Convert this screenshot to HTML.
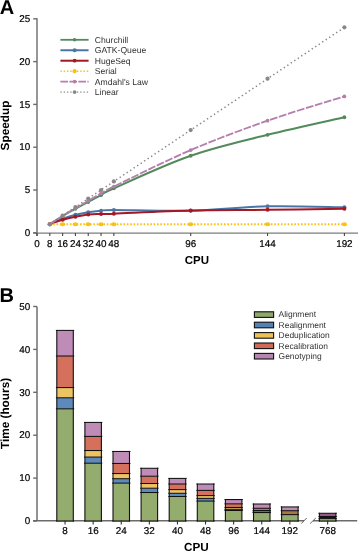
<!DOCTYPE html>
<html><head><meta charset="utf-8"><style>
html,body{margin:0;padding:0;background:#fff;}
svg{display:block;will-change:transform;text-rendering:geometricPrecision;font-family:"Liberation Sans",sans-serif;}
</style></head><body>
<svg width="358" height="551" viewBox="0 0 358 551" fill="#000">
<text x="-0.3" y="14.3" font-size="20" font-weight="bold">A</text>
<path d="M37,18.2 V236" stroke="#6b6b6b" stroke-width="1.4" fill="none"/>
<path d="M33,233 H358" stroke="#7c7c7c" stroke-width="1.25" fill="none"/>
<line x1="33.2" x2="37" y1="232.80" y2="232.80" stroke="#6b6b6b" stroke-width="1.4"/>
<text x="30.3" y="236.00" font-size="9.9" stroke="#000" stroke-width="0.2" text-anchor="end">0</text>
<line x1="33.2" x2="37" y1="190.00" y2="190.00" stroke="#6b6b6b" stroke-width="1.4"/>
<text x="30.3" y="193.20" font-size="9.9" stroke="#000" stroke-width="0.2" text-anchor="end">5</text>
<line x1="33.2" x2="37" y1="147.20" y2="147.20" stroke="#6b6b6b" stroke-width="1.4"/>
<text x="30.3" y="150.40" font-size="9.9" stroke="#000" stroke-width="0.2" text-anchor="end">10</text>
<line x1="33.2" x2="37" y1="104.40" y2="104.40" stroke="#6b6b6b" stroke-width="1.4"/>
<text x="30.3" y="107.60" font-size="9.9" stroke="#000" stroke-width="0.2" text-anchor="end">15</text>
<line x1="33.2" x2="37" y1="61.60" y2="61.60" stroke="#6b6b6b" stroke-width="1.4"/>
<text x="30.3" y="64.80" font-size="9.9" stroke="#000" stroke-width="0.2" text-anchor="end">20</text>
<line x1="33.2" x2="37" y1="18.80" y2="18.80" stroke="#6b6b6b" stroke-width="1.4"/>
<text x="30.3" y="22.00" font-size="9.9" stroke="#000" stroke-width="0.2" text-anchor="end">25</text>
<line x1="37.00" x2="37.00" y1="233" y2="236" stroke="#444" stroke-width="1.1"/>
<text x="37.00" y="246.6" font-size="9.9" stroke="#000" stroke-width="0.2" text-anchor="middle">0</text>
<line x1="49.81" x2="49.81" y1="233" y2="236" stroke="#444" stroke-width="1.1"/>
<text x="49.81" y="246.6" font-size="9.9" stroke="#000" stroke-width="0.2" text-anchor="middle">8</text>
<line x1="62.62" x2="62.62" y1="233" y2="236" stroke="#444" stroke-width="1.1"/>
<text x="62.62" y="246.6" font-size="9.9" stroke="#000" stroke-width="0.2" text-anchor="middle">16</text>
<line x1="75.42" x2="75.42" y1="233" y2="236" stroke="#444" stroke-width="1.1"/>
<text x="75.42" y="246.6" font-size="9.9" stroke="#000" stroke-width="0.2" text-anchor="middle">24</text>
<line x1="88.23" x2="88.23" y1="233" y2="236" stroke="#444" stroke-width="1.1"/>
<text x="88.23" y="246.6" font-size="9.9" stroke="#000" stroke-width="0.2" text-anchor="middle">32</text>
<line x1="101.04" x2="101.04" y1="233" y2="236" stroke="#444" stroke-width="1.1"/>
<text x="101.04" y="246.6" font-size="9.9" stroke="#000" stroke-width="0.2" text-anchor="middle">40</text>
<line x1="113.85" x2="113.85" y1="233" y2="236" stroke="#444" stroke-width="1.1"/>
<text x="113.85" y="246.6" font-size="9.9" stroke="#000" stroke-width="0.2" text-anchor="middle">48</text>
<line x1="190.70" x2="190.70" y1="233" y2="236" stroke="#444" stroke-width="1.1"/>
<text x="190.70" y="246.6" font-size="9.9" stroke="#000" stroke-width="0.2" text-anchor="middle">96</text>
<line x1="267.54" x2="267.54" y1="233" y2="236" stroke="#444" stroke-width="1.1"/>
<text x="267.54" y="246.6" font-size="9.9" stroke="#000" stroke-width="0.2" text-anchor="middle">144</text>
<line x1="344.39" x2="344.39" y1="233" y2="236" stroke="#444" stroke-width="1.1"/>
<text x="344.39" y="246.6" font-size="9.9" stroke="#000" stroke-width="0.2" text-anchor="middle">192</text>
<text x="196.9" y="263.5" font-size="11.5" font-weight="bold" text-anchor="middle">CPU</text>
<text transform="translate(9.2,125.5) rotate(-90)" font-size="11.8" font-weight="bold" text-anchor="middle">Speedup</text>
<path d="M49.81,224.24 C51.94,222.88 58.35,218.68 62.62,216.11 C66.89,213.54 71.15,211.19 75.42,208.83 C79.69,206.48 83.96,204.27 88.23,201.98 C92.50,199.70 96.77,197.42 101.04,195.14 C105.31,192.85 98.91,194.85 113.85,188.29 C128.79,181.73 165.08,164.68 190.70,155.76 C216.31,146.84 241.93,141.21 267.54,134.79 C293.16,128.37 331.58,120.16 344.39,117.24" fill="none" stroke="#538a5b" stroke-width="2.0" /><circle cx="49.81" cy="224.24" r="1.9" fill="#538a5b"/><circle cx="62.62" cy="216.11" r="1.9" fill="#538a5b"/><circle cx="75.42" cy="208.83" r="1.9" fill="#538a5b"/><circle cx="88.23" cy="201.98" r="1.9" fill="#538a5b"/><circle cx="101.04" cy="195.14" r="1.9" fill="#538a5b"/><circle cx="113.85" cy="188.29" r="1.9" fill="#538a5b"/><circle cx="190.70" cy="155.76" r="1.9" fill="#538a5b"/><circle cx="267.54" cy="134.79" r="1.9" fill="#538a5b"/><circle cx="344.39" cy="117.24" r="1.9" fill="#538a5b"/>
<path d="M49.81,224.24 C51.94,223.31 58.35,220.25 62.62,218.68 C66.89,217.11 71.15,215.89 75.42,214.82 C79.69,213.75 83.96,212.93 88.23,212.26 C92.50,211.59 96.77,211.17 101.04,210.80 C105.31,210.43 98.91,210.04 113.85,210.03 C128.79,210.02 165.08,211.34 190.70,210.72 C216.31,210.09 241.93,206.83 267.54,206.26 C293.16,205.69 331.58,207.12 344.39,207.29" fill="none" stroke="#4a76a6" stroke-width="2.0" /><circle cx="49.81" cy="224.24" r="2.0" fill="#4a76a6"/><circle cx="62.62" cy="218.68" r="2.0" fill="#4a76a6"/><circle cx="75.42" cy="214.82" r="2.0" fill="#4a76a6"/><circle cx="88.23" cy="212.26" r="2.0" fill="#4a76a6"/><circle cx="101.04" cy="210.80" r="2.0" fill="#4a76a6"/><circle cx="113.85" cy="210.03" r="2.0" fill="#4a76a6"/><circle cx="190.70" cy="210.72" r="2.0" fill="#4a76a6"/><circle cx="267.54" cy="206.26" r="2.0" fill="#4a76a6"/><circle cx="344.39" cy="207.29" r="2.0" fill="#4a76a6"/>
<path d="M49.81,224.24 C51.94,223.50 58.35,221.03 62.62,219.79 C66.89,218.55 71.15,217.69 75.42,216.79 C79.69,215.89 83.96,214.87 88.23,214.40 C92.50,213.93 96.77,214.08 101.04,213.97 C105.31,213.85 98.91,214.28 113.85,213.71 C128.79,213.14 165.08,211.19 190.70,210.54 C216.31,209.90 241.93,210.17 267.54,209.86 C293.16,209.55 331.58,208.86 344.39,208.66" fill="none" stroke="#a41826" stroke-width="2.0" /><circle cx="49.81" cy="224.24" r="2.0" fill="#a41826"/><circle cx="62.62" cy="219.79" r="2.0" fill="#a41826"/><circle cx="75.42" cy="216.79" r="2.0" fill="#a41826"/><circle cx="88.23" cy="214.40" r="2.0" fill="#a41826"/><circle cx="101.04" cy="213.97" r="2.0" fill="#a41826"/><circle cx="113.85" cy="213.71" r="2.0" fill="#a41826"/><circle cx="190.70" cy="210.54" r="2.0" fill="#a41826"/><circle cx="267.54" cy="209.86" r="2.0" fill="#a41826"/><circle cx="344.39" cy="208.66" r="2.0" fill="#a41826"/>
<path d="M49.81,224.24 L62.62,224.24 L75.42,224.24 L88.23,224.24 L101.04,224.24 L113.85,224.24 L190.70,224.24 L267.54,224.24 L344.39,224.24" fill="none" stroke="#fcc011" stroke-width="1.8" stroke-dasharray="1.6 1.75"/><ellipse cx="49.81" cy="224.24" rx="2.6" ry="1.9" fill="#fcc011"/><ellipse cx="62.62" cy="224.24" rx="2.6" ry="1.9" fill="#fcc011"/><ellipse cx="75.42" cy="224.24" rx="2.6" ry="1.9" fill="#fcc011"/><ellipse cx="88.23" cy="224.24" rx="2.6" ry="1.9" fill="#fcc011"/><ellipse cx="101.04" cy="224.24" rx="2.6" ry="1.9" fill="#fcc011"/><ellipse cx="113.85" cy="224.24" rx="2.6" ry="1.9" fill="#fcc011"/><ellipse cx="190.70" cy="224.24" rx="2.6" ry="1.9" fill="#fcc011"/><ellipse cx="267.54" cy="224.24" rx="2.6" ry="1.9" fill="#fcc011"/><ellipse cx="344.39" cy="224.24" rx="2.6" ry="1.9" fill="#fcc011"/>
<path d="M49.81,224.24 C51.94,222.87 58.35,218.72 62.62,216.05 C66.89,213.38 71.15,210.76 75.42,208.20 C79.69,205.64 83.96,203.14 88.23,200.68 C92.50,198.22 96.77,195.82 101.04,193.46 C105.31,191.10 98.91,193.76 113.85,186.53 C128.79,179.30 165.08,161.07 190.70,150.09 C216.31,139.12 241.93,129.61 267.54,120.66 C293.16,111.71 331.58,100.43 344.39,96.39" fill="none" stroke="#b47fab" stroke-width="1.8" stroke-dasharray="7.8 1.6"/><circle cx="49.81" cy="224.24" r="1.9" fill="#b47fab"/><circle cx="62.62" cy="216.05" r="1.9" fill="#b47fab"/><circle cx="75.42" cy="208.20" r="1.9" fill="#b47fab"/><circle cx="88.23" cy="200.68" r="1.9" fill="#b47fab"/><circle cx="101.04" cy="193.46" r="1.9" fill="#b47fab"/><circle cx="113.85" cy="186.53" r="1.9" fill="#b47fab"/><circle cx="190.70" cy="150.09" r="1.9" fill="#b47fab"/><circle cx="267.54" cy="120.66" r="1.9" fill="#b47fab"/><circle cx="344.39" cy="96.39" r="1.9" fill="#b47fab"/>
<path d="M49.81,224.24 L62.62,215.68 L75.42,207.12 L88.23,198.56 L101.04,190.00 L113.85,181.44 L190.70,130.08 L267.54,78.72 L344.39,27.36" fill="none" stroke="#888888" stroke-width="1.5" stroke-dasharray="1.4 2.8"/><circle cx="49.81" cy="224.24" r="2.1" fill="#888888"/><circle cx="62.62" cy="215.68" r="2.1" fill="#888888"/><circle cx="75.42" cy="207.12" r="2.1" fill="#888888"/><circle cx="88.23" cy="198.56" r="2.1" fill="#888888"/><circle cx="101.04" cy="190.00" r="2.1" fill="#888888"/><circle cx="113.85" cy="181.44" r="2.1" fill="#888888"/><circle cx="190.70" cy="130.08" r="2.1" fill="#888888"/><circle cx="267.54" cy="78.72" r="2.1" fill="#888888"/><circle cx="344.39" cy="27.36" r="2.1" fill="#888888"/>
<line x1="60.4" x2="88.6" y1="39.80" y2="39.80" stroke="#538a5b" stroke-width="1.8" />
<circle cx="74.6" cy="39.80" r="1.8" fill="#538a5b"/>
<text x="94.8" y="42.80" font-size="8.6" fill="#333">Churchill</text>
<line x1="60.4" x2="88.6" y1="50.26" y2="50.26" stroke="#4a76a6" stroke-width="2.0" />
<circle cx="74.6" cy="50.26" r="2.1" fill="#4a76a6"/>
<text x="94.8" y="53.26" font-size="8.6" fill="#333">GATK-Queue</text>
<line x1="60.4" x2="88.6" y1="60.72" y2="60.72" stroke="#a41826" stroke-width="2.0" />
<circle cx="74.6" cy="60.72" r="1.9" fill="#a41826"/>
<text x="94.8" y="63.72" font-size="8.6" fill="#333">HugeSeq</text>
<line x1="60.4" x2="88.6" y1="71.18" y2="71.18" stroke="#fcc011" stroke-width="1.5" stroke-dasharray="1.4 1.9"/>
<circle cx="74.6" cy="71.18" r="2.1" fill="#fcc011"/>
<text x="94.8" y="74.18" font-size="8.6" fill="#333">Serial</text>
<line x1="60.4" x2="88.6" y1="81.64" y2="81.64" stroke="#b47fab" stroke-width="1.6" stroke-dasharray="7.6 1.4"/>
<circle cx="74.6" cy="81.64" r="1.8" fill="#b47fab"/>
<text x="94.8" y="84.64" font-size="8.6" fill="#333">Amdahl&#39;s Law</text>
<line x1="60.4" x2="88.6" y1="92.10" y2="92.10" stroke="#888888" stroke-width="1.4" stroke-dasharray="1.3 2.0"/>
<circle cx="74.6" cy="92.10" r="1.9" fill="#888888"/>
<text x="94.8" y="95.10" font-size="8.6" fill="#333">Linear</text>
<text x="-0.4" y="301.6" font-size="20" font-weight="bold">B</text>
<path d="M37,306.5 V520.8 M33,520.8 H304 M313,520.8 H357.2" stroke="#6b6b6b" stroke-width="1.45" fill="none"/>
<line x1="33.2" x2="37" y1="521.00" y2="521.00" stroke="#6b6b6b" stroke-width="1.4"/>
<text x="30.3" y="524.20" font-size="9.9" stroke="#000" stroke-width="0.2" text-anchor="end">0</text>
<line x1="33.2" x2="37" y1="478.10" y2="478.10" stroke="#6b6b6b" stroke-width="1.4"/>
<text x="30.3" y="481.30" font-size="9.9" stroke="#000" stroke-width="0.2" text-anchor="end">10</text>
<line x1="33.2" x2="37" y1="435.20" y2="435.20" stroke="#6b6b6b" stroke-width="1.4"/>
<text x="30.3" y="438.40" font-size="9.9" stroke="#000" stroke-width="0.2" text-anchor="end">20</text>
<line x1="33.2" x2="37" y1="392.30" y2="392.30" stroke="#6b6b6b" stroke-width="1.4"/>
<text x="30.3" y="395.50" font-size="9.9" stroke="#000" stroke-width="0.2" text-anchor="end">30</text>
<line x1="33.2" x2="37" y1="349.40" y2="349.40" stroke="#6b6b6b" stroke-width="1.4"/>
<text x="30.3" y="352.60" font-size="9.9" stroke="#000" stroke-width="0.2" text-anchor="end">40</text>
<line x1="33.2" x2="37" y1="306.50" y2="306.50" stroke="#6b6b6b" stroke-width="1.4"/>
<text x="30.3" y="309.70" font-size="9.9" stroke="#000" stroke-width="0.2" text-anchor="end">50</text>
<text transform="translate(9.4,413.5) rotate(-90)" font-size="11.8" font-weight="bold" text-anchor="middle">Time (hours)</text>
<text x="196.3" y="550.8" font-size="11.7" font-weight="bold" text-anchor="middle">CPU</text>
<rect x="56.80" y="408.82" width="16.50" height="112.18" fill="#94ac6d"/>
<rect x="56.80" y="397.79" width="16.50" height="11.03" fill="#5d8abb"/>
<rect x="56.80" y="387.58" width="16.50" height="10.21" fill="#eec364"/>
<rect x="56.80" y="356.01" width="16.50" height="31.57" fill="#d4705c"/>
<rect x="56.80" y="330.40" width="16.50" height="25.61" fill="#bf8bb7"/>
<line x1="55.90" x2="74.20" y1="408.82" y2="408.82" stroke="#111" stroke-width="1.05"/>
<line x1="55.90" x2="74.20" y1="397.79" y2="397.79" stroke="#111" stroke-width="1.05"/>
<line x1="55.90" x2="74.20" y1="387.58" y2="387.58" stroke="#111" stroke-width="1.05"/>
<line x1="55.90" x2="74.20" y1="356.01" y2="356.01" stroke="#111" stroke-width="1.05"/>
<line x1="55.90" x2="74.20" y1="330.40" y2="330.40" stroke="#111" stroke-width="1.05"/>
<line x1="56.25" x2="73.85" y1="521.00" y2="521.00" stroke="#111" stroke-width="1.1"/>
<line x1="56.80" x2="56.80" y1="329.90" y2="521.50" stroke="#111" stroke-width="1.1"/>
<line x1="73.30" x2="73.30" y1="329.90" y2="521.50" stroke="#111" stroke-width="1.1"/>
<line x1="65.05" x2="65.05" y1="520.6" y2="524.6" stroke="#333" stroke-width="1.1"/>
<text x="65.05" y="534.2" font-size="9.9" stroke="#000" stroke-width="0.2" text-anchor="middle">8</text>
<rect x="84.90" y="463.21" width="16.50" height="57.79" fill="#94ac6d"/>
<rect x="84.90" y="457.08" width="16.50" height="6.13" fill="#5d8abb"/>
<rect x="84.90" y="450.52" width="16.50" height="6.56" fill="#eec364"/>
<rect x="84.90" y="436.40" width="16.50" height="14.11" fill="#d4705c"/>
<rect x="84.90" y="422.42" width="16.50" height="13.99" fill="#bf8bb7"/>
<line x1="84.00" x2="102.30" y1="463.21" y2="463.21" stroke="#111" stroke-width="1.05"/>
<line x1="84.00" x2="102.30" y1="457.08" y2="457.08" stroke="#111" stroke-width="1.05"/>
<line x1="84.00" x2="102.30" y1="450.52" y2="450.52" stroke="#111" stroke-width="1.05"/>
<line x1="84.00" x2="102.30" y1="436.40" y2="436.40" stroke="#111" stroke-width="1.05"/>
<line x1="84.00" x2="102.30" y1="422.42" y2="422.42" stroke="#111" stroke-width="1.05"/>
<line x1="84.35" x2="101.95" y1="521.00" y2="521.00" stroke="#111" stroke-width="1.1"/>
<line x1="84.90" x2="84.90" y1="421.92" y2="521.50" stroke="#111" stroke-width="1.1"/>
<line x1="101.40" x2="101.40" y1="421.92" y2="521.50" stroke="#111" stroke-width="1.1"/>
<line x1="93.15" x2="93.15" y1="520.6" y2="524.6" stroke="#333" stroke-width="1.1"/>
<text x="93.15" y="534.2" font-size="9.9" stroke="#000" stroke-width="0.2" text-anchor="middle">16</text>
<rect x="113.00" y="483.12" width="16.50" height="37.88" fill="#94ac6d"/>
<rect x="113.00" y="478.70" width="16.50" height="4.42" fill="#5d8abb"/>
<rect x="113.00" y="473.55" width="16.50" height="5.15" fill="#eec364"/>
<rect x="113.00" y="463.47" width="16.50" height="10.08" fill="#d4705c"/>
<rect x="113.00" y="451.46" width="16.50" height="12.01" fill="#bf8bb7"/>
<line x1="112.10" x2="130.40" y1="483.12" y2="483.12" stroke="#111" stroke-width="1.05"/>
<line x1="112.10" x2="130.40" y1="478.70" y2="478.70" stroke="#111" stroke-width="1.05"/>
<line x1="112.10" x2="130.40" y1="473.55" y2="473.55" stroke="#111" stroke-width="1.05"/>
<line x1="112.10" x2="130.40" y1="463.47" y2="463.47" stroke="#111" stroke-width="1.05"/>
<line x1="112.10" x2="130.40" y1="451.46" y2="451.46" stroke="#111" stroke-width="1.05"/>
<line x1="112.45" x2="130.05" y1="521.00" y2="521.00" stroke="#111" stroke-width="1.1"/>
<line x1="113.00" x2="113.00" y1="450.96" y2="521.50" stroke="#111" stroke-width="1.1"/>
<line x1="129.50" x2="129.50" y1="450.96" y2="521.50" stroke="#111" stroke-width="1.1"/>
<line x1="121.25" x2="121.25" y1="520.6" y2="524.6" stroke="#333" stroke-width="1.1"/>
<text x="121.25" y="534.2" font-size="9.9" stroke="#000" stroke-width="0.2" text-anchor="middle">24</text>
<rect x="141.10" y="492.51" width="16.50" height="28.49" fill="#94ac6d"/>
<rect x="141.10" y="488.22" width="16.50" height="4.29" fill="#5d8abb"/>
<rect x="141.10" y="483.51" width="16.50" height="4.72" fill="#eec364"/>
<rect x="141.10" y="476.21" width="16.50" height="7.29" fill="#d4705c"/>
<rect x="141.10" y="468.28" width="16.50" height="7.94" fill="#bf8bb7"/>
<line x1="140.20" x2="158.50" y1="492.51" y2="492.51" stroke="#111" stroke-width="1.05"/>
<line x1="140.20" x2="158.50" y1="488.22" y2="488.22" stroke="#111" stroke-width="1.05"/>
<line x1="140.20" x2="158.50" y1="483.51" y2="483.51" stroke="#111" stroke-width="1.05"/>
<line x1="140.20" x2="158.50" y1="476.21" y2="476.21" stroke="#111" stroke-width="1.05"/>
<line x1="140.20" x2="158.50" y1="468.28" y2="468.28" stroke="#111" stroke-width="1.05"/>
<line x1="140.55" x2="158.15" y1="521.00" y2="521.00" stroke="#111" stroke-width="1.1"/>
<line x1="141.10" x2="141.10" y1="467.78" y2="521.50" stroke="#111" stroke-width="1.1"/>
<line x1="157.60" x2="157.60" y1="467.78" y2="521.50" stroke="#111" stroke-width="1.1"/>
<line x1="149.35" x2="149.35" y1="520.6" y2="524.6" stroke="#333" stroke-width="1.1"/>
<text x="149.35" y="534.2" font-size="9.9" stroke="#000" stroke-width="0.2" text-anchor="middle">32</text>
<rect x="169.20" y="496.50" width="16.50" height="24.50" fill="#94ac6d"/>
<rect x="169.20" y="493.29" width="16.50" height="3.22" fill="#5d8abb"/>
<rect x="169.20" y="489.60" width="16.50" height="3.69" fill="#eec364"/>
<rect x="169.20" y="484.02" width="16.50" height="5.58" fill="#d4705c"/>
<rect x="169.20" y="478.40" width="16.50" height="5.62" fill="#bf8bb7"/>
<line x1="168.30" x2="186.60" y1="496.50" y2="496.50" stroke="#111" stroke-width="1.05"/>
<line x1="168.30" x2="186.60" y1="493.29" y2="493.29" stroke="#111" stroke-width="1.05"/>
<line x1="168.30" x2="186.60" y1="489.60" y2="489.60" stroke="#111" stroke-width="1.05"/>
<line x1="168.30" x2="186.60" y1="484.02" y2="484.02" stroke="#111" stroke-width="1.05"/>
<line x1="168.30" x2="186.60" y1="478.40" y2="478.40" stroke="#111" stroke-width="1.05"/>
<line x1="168.65" x2="186.25" y1="521.00" y2="521.00" stroke="#111" stroke-width="1.1"/>
<line x1="169.20" x2="169.20" y1="477.90" y2="521.50" stroke="#111" stroke-width="1.1"/>
<line x1="185.70" x2="185.70" y1="477.90" y2="521.50" stroke="#111" stroke-width="1.1"/>
<line x1="177.45" x2="177.45" y1="520.6" y2="524.6" stroke="#333" stroke-width="1.1"/>
<text x="177.45" y="534.2" font-size="9.9" stroke="#000" stroke-width="0.2" text-anchor="middle">40</text>
<rect x="197.30" y="501.09" width="16.50" height="19.91" fill="#94ac6d"/>
<rect x="197.30" y="498.39" width="16.50" height="2.70" fill="#5d8abb"/>
<rect x="197.30" y="495.60" width="16.50" height="2.79" fill="#eec364"/>
<rect x="197.30" y="490.41" width="16.50" height="5.19" fill="#d4705c"/>
<rect x="197.30" y="484.02" width="16.50" height="6.39" fill="#bf8bb7"/>
<line x1="196.40" x2="214.70" y1="501.09" y2="501.09" stroke="#111" stroke-width="1.05"/>
<line x1="196.40" x2="214.70" y1="498.39" y2="498.39" stroke="#111" stroke-width="1.05"/>
<line x1="196.40" x2="214.70" y1="495.60" y2="495.60" stroke="#111" stroke-width="1.05"/>
<line x1="196.40" x2="214.70" y1="490.41" y2="490.41" stroke="#111" stroke-width="1.05"/>
<line x1="196.40" x2="214.70" y1="484.02" y2="484.02" stroke="#111" stroke-width="1.05"/>
<line x1="196.75" x2="214.35" y1="521.00" y2="521.00" stroke="#111" stroke-width="1.1"/>
<line x1="197.30" x2="197.30" y1="483.52" y2="521.50" stroke="#111" stroke-width="1.1"/>
<line x1="213.80" x2="213.80" y1="483.52" y2="521.50" stroke="#111" stroke-width="1.1"/>
<line x1="205.55" x2="205.55" y1="520.6" y2="524.6" stroke="#333" stroke-width="1.1"/>
<text x="205.55" y="534.2" font-size="9.9" stroke="#000" stroke-width="0.2" text-anchor="middle">48</text>
<rect x="225.40" y="510.49" width="16.50" height="10.51" fill="#94ac6d"/>
<rect x="225.40" y="509.29" width="16.50" height="1.20" fill="#5d8abb"/>
<rect x="225.40" y="507.49" width="16.50" height="1.80" fill="#eec364"/>
<rect x="225.40" y="503.84" width="16.50" height="3.65" fill="#d4705c"/>
<rect x="225.40" y="499.55" width="16.50" height="4.29" fill="#bf8bb7"/>
<line x1="224.50" x2="242.80" y1="510.49" y2="510.49" stroke="#111" stroke-width="1.05"/>
<line x1="224.50" x2="242.80" y1="509.29" y2="509.29" stroke="#111" stroke-width="1.05"/>
<line x1="224.50" x2="242.80" y1="507.49" y2="507.49" stroke="#111" stroke-width="1.05"/>
<line x1="224.50" x2="242.80" y1="503.84" y2="503.84" stroke="#111" stroke-width="1.05"/>
<line x1="224.50" x2="242.80" y1="499.55" y2="499.55" stroke="#111" stroke-width="1.05"/>
<line x1="224.85" x2="242.45" y1="521.00" y2="521.00" stroke="#111" stroke-width="1.1"/>
<line x1="225.40" x2="225.40" y1="499.05" y2="521.50" stroke="#111" stroke-width="1.1"/>
<line x1="241.90" x2="241.90" y1="499.05" y2="521.50" stroke="#111" stroke-width="1.1"/>
<line x1="233.65" x2="233.65" y1="520.6" y2="524.6" stroke="#333" stroke-width="1.1"/>
<text x="233.65" y="534.2" font-size="9.9" stroke="#000" stroke-width="0.2" text-anchor="middle">96</text>
<rect x="253.50" y="512.55" width="16.50" height="8.45" fill="#94ac6d"/>
<rect x="253.50" y="512.03" width="16.50" height="0.51" fill="#5d8abb"/>
<rect x="253.50" y="510.49" width="16.50" height="1.54" fill="#eec364"/>
<rect x="253.50" y="508.30" width="16.50" height="2.19" fill="#d4705c"/>
<rect x="253.50" y="504.01" width="16.50" height="4.29" fill="#bf8bb7"/>
<line x1="252.60" x2="270.90" y1="512.55" y2="512.55" stroke="#111" stroke-width="1.05"/>
<line x1="252.60" x2="270.90" y1="512.03" y2="512.03" stroke="#111" stroke-width="1.05"/>
<line x1="252.60" x2="270.90" y1="510.49" y2="510.49" stroke="#111" stroke-width="1.05"/>
<line x1="252.60" x2="270.90" y1="508.30" y2="508.30" stroke="#111" stroke-width="1.05"/>
<line x1="252.60" x2="270.90" y1="504.01" y2="504.01" stroke="#111" stroke-width="1.05"/>
<line x1="252.95" x2="270.55" y1="521.00" y2="521.00" stroke="#111" stroke-width="1.1"/>
<line x1="253.50" x2="253.50" y1="503.51" y2="521.50" stroke="#111" stroke-width="1.1"/>
<line x1="270.00" x2="270.00" y1="503.51" y2="521.50" stroke="#111" stroke-width="1.1"/>
<line x1="261.75" x2="261.75" y1="520.6" y2="524.6" stroke="#333" stroke-width="1.1"/>
<text x="261.75" y="534.2" font-size="9.9" stroke="#000" stroke-width="0.2" text-anchor="middle">144</text>
<rect x="281.60" y="514.61" width="16.50" height="6.39" fill="#94ac6d"/>
<rect x="281.60" y="510.70" width="16.50" height="3.90" fill="#a87844"/>
<rect x="281.60" y="506.93" width="16.50" height="3.78" fill="#bf8bb7"/>
<line x1="280.70" x2="299.00" y1="514.61" y2="514.61" stroke="#111" stroke-width="1.05"/>
<line x1="280.70" x2="299.00" y1="510.70" y2="510.70" stroke="#111" stroke-width="1.05"/>
<line x1="280.70" x2="299.00" y1="506.93" y2="506.93" stroke="#111" stroke-width="1.05"/>
<line x1="281.05" x2="298.65" y1="521.00" y2="521.00" stroke="#111" stroke-width="1.1"/>
<line x1="281.60" x2="281.60" y1="506.43" y2="521.50" stroke="#111" stroke-width="1.1"/>
<line x1="298.10" x2="298.10" y1="506.43" y2="521.50" stroke="#111" stroke-width="1.1"/>
<line x1="289.85" x2="289.85" y1="520.6" y2="524.6" stroke="#333" stroke-width="1.1"/>
<text x="289.85" y="534.2" font-size="9.9" stroke="#000" stroke-width="0.2" text-anchor="middle">192</text>
<rect x="319.40" y="518.64" width="16.50" height="2.36" fill="#a5c27f"/>
<rect x="319.40" y="516.50" width="16.50" height="2.14" fill="#141414"/>
<rect x="319.40" y="513.28" width="16.50" height="3.22" fill="#98588c"/>
<line x1="318.50" x2="336.80" y1="518.64" y2="518.64" stroke="#111" stroke-width="1.05"/>
<line x1="318.50" x2="336.80" y1="516.50" y2="516.50" stroke="#111" stroke-width="1.05"/>
<line x1="318.50" x2="336.80" y1="513.28" y2="513.28" stroke="#111" stroke-width="1.05"/>
<line x1="318.85" x2="336.45" y1="521.00" y2="521.00" stroke="#111" stroke-width="1.1"/>
<line x1="319.40" x2="319.40" y1="512.78" y2="521.50" stroke="#111" stroke-width="1.1"/>
<line x1="335.90" x2="335.90" y1="512.78" y2="521.50" stroke="#111" stroke-width="1.1"/>
<line x1="327.65" x2="327.65" y1="520.6" y2="524.6" stroke="#333" stroke-width="1.1"/>
<text x="327.65" y="534.2" font-size="9.9" stroke="#000" stroke-width="0.2" text-anchor="middle">768</text>
<path d="M301.3,523.6 L306.7,518 M310.1,523.6 L315.8,518" stroke="#555" stroke-width="0.9" fill="none"/>
<rect x="254.4" y="311.80" width="19.2" height="5.6" fill="#8ea76a" stroke="#111" stroke-width="1.1"/>
<text x="278.6" y="317.40" font-size="8.45" fill="#333">Alignment</text>
<rect x="254.4" y="322.20" width="19.2" height="5.6" fill="#5582b5" stroke="#111" stroke-width="1.1"/>
<text x="278.6" y="327.80" font-size="8.45" fill="#333">Realignment</text>
<rect x="254.4" y="332.60" width="19.2" height="5.6" fill="#ecc258" stroke="#111" stroke-width="1.1"/>
<text x="278.6" y="338.20" font-size="8.45" fill="#333">Deduplication</text>
<rect x="254.4" y="343.00" width="19.2" height="5.6" fill="#cf6a58" stroke="#111" stroke-width="1.1"/>
<text x="278.6" y="348.60" font-size="8.45" fill="#333">Recalibration</text>
<rect x="254.4" y="353.40" width="19.2" height="5.6" fill="#b585ad" stroke="#111" stroke-width="1.1"/>
<text x="278.6" y="359.00" font-size="8.45" fill="#333">Genotyping</text>
</svg></body></html>
